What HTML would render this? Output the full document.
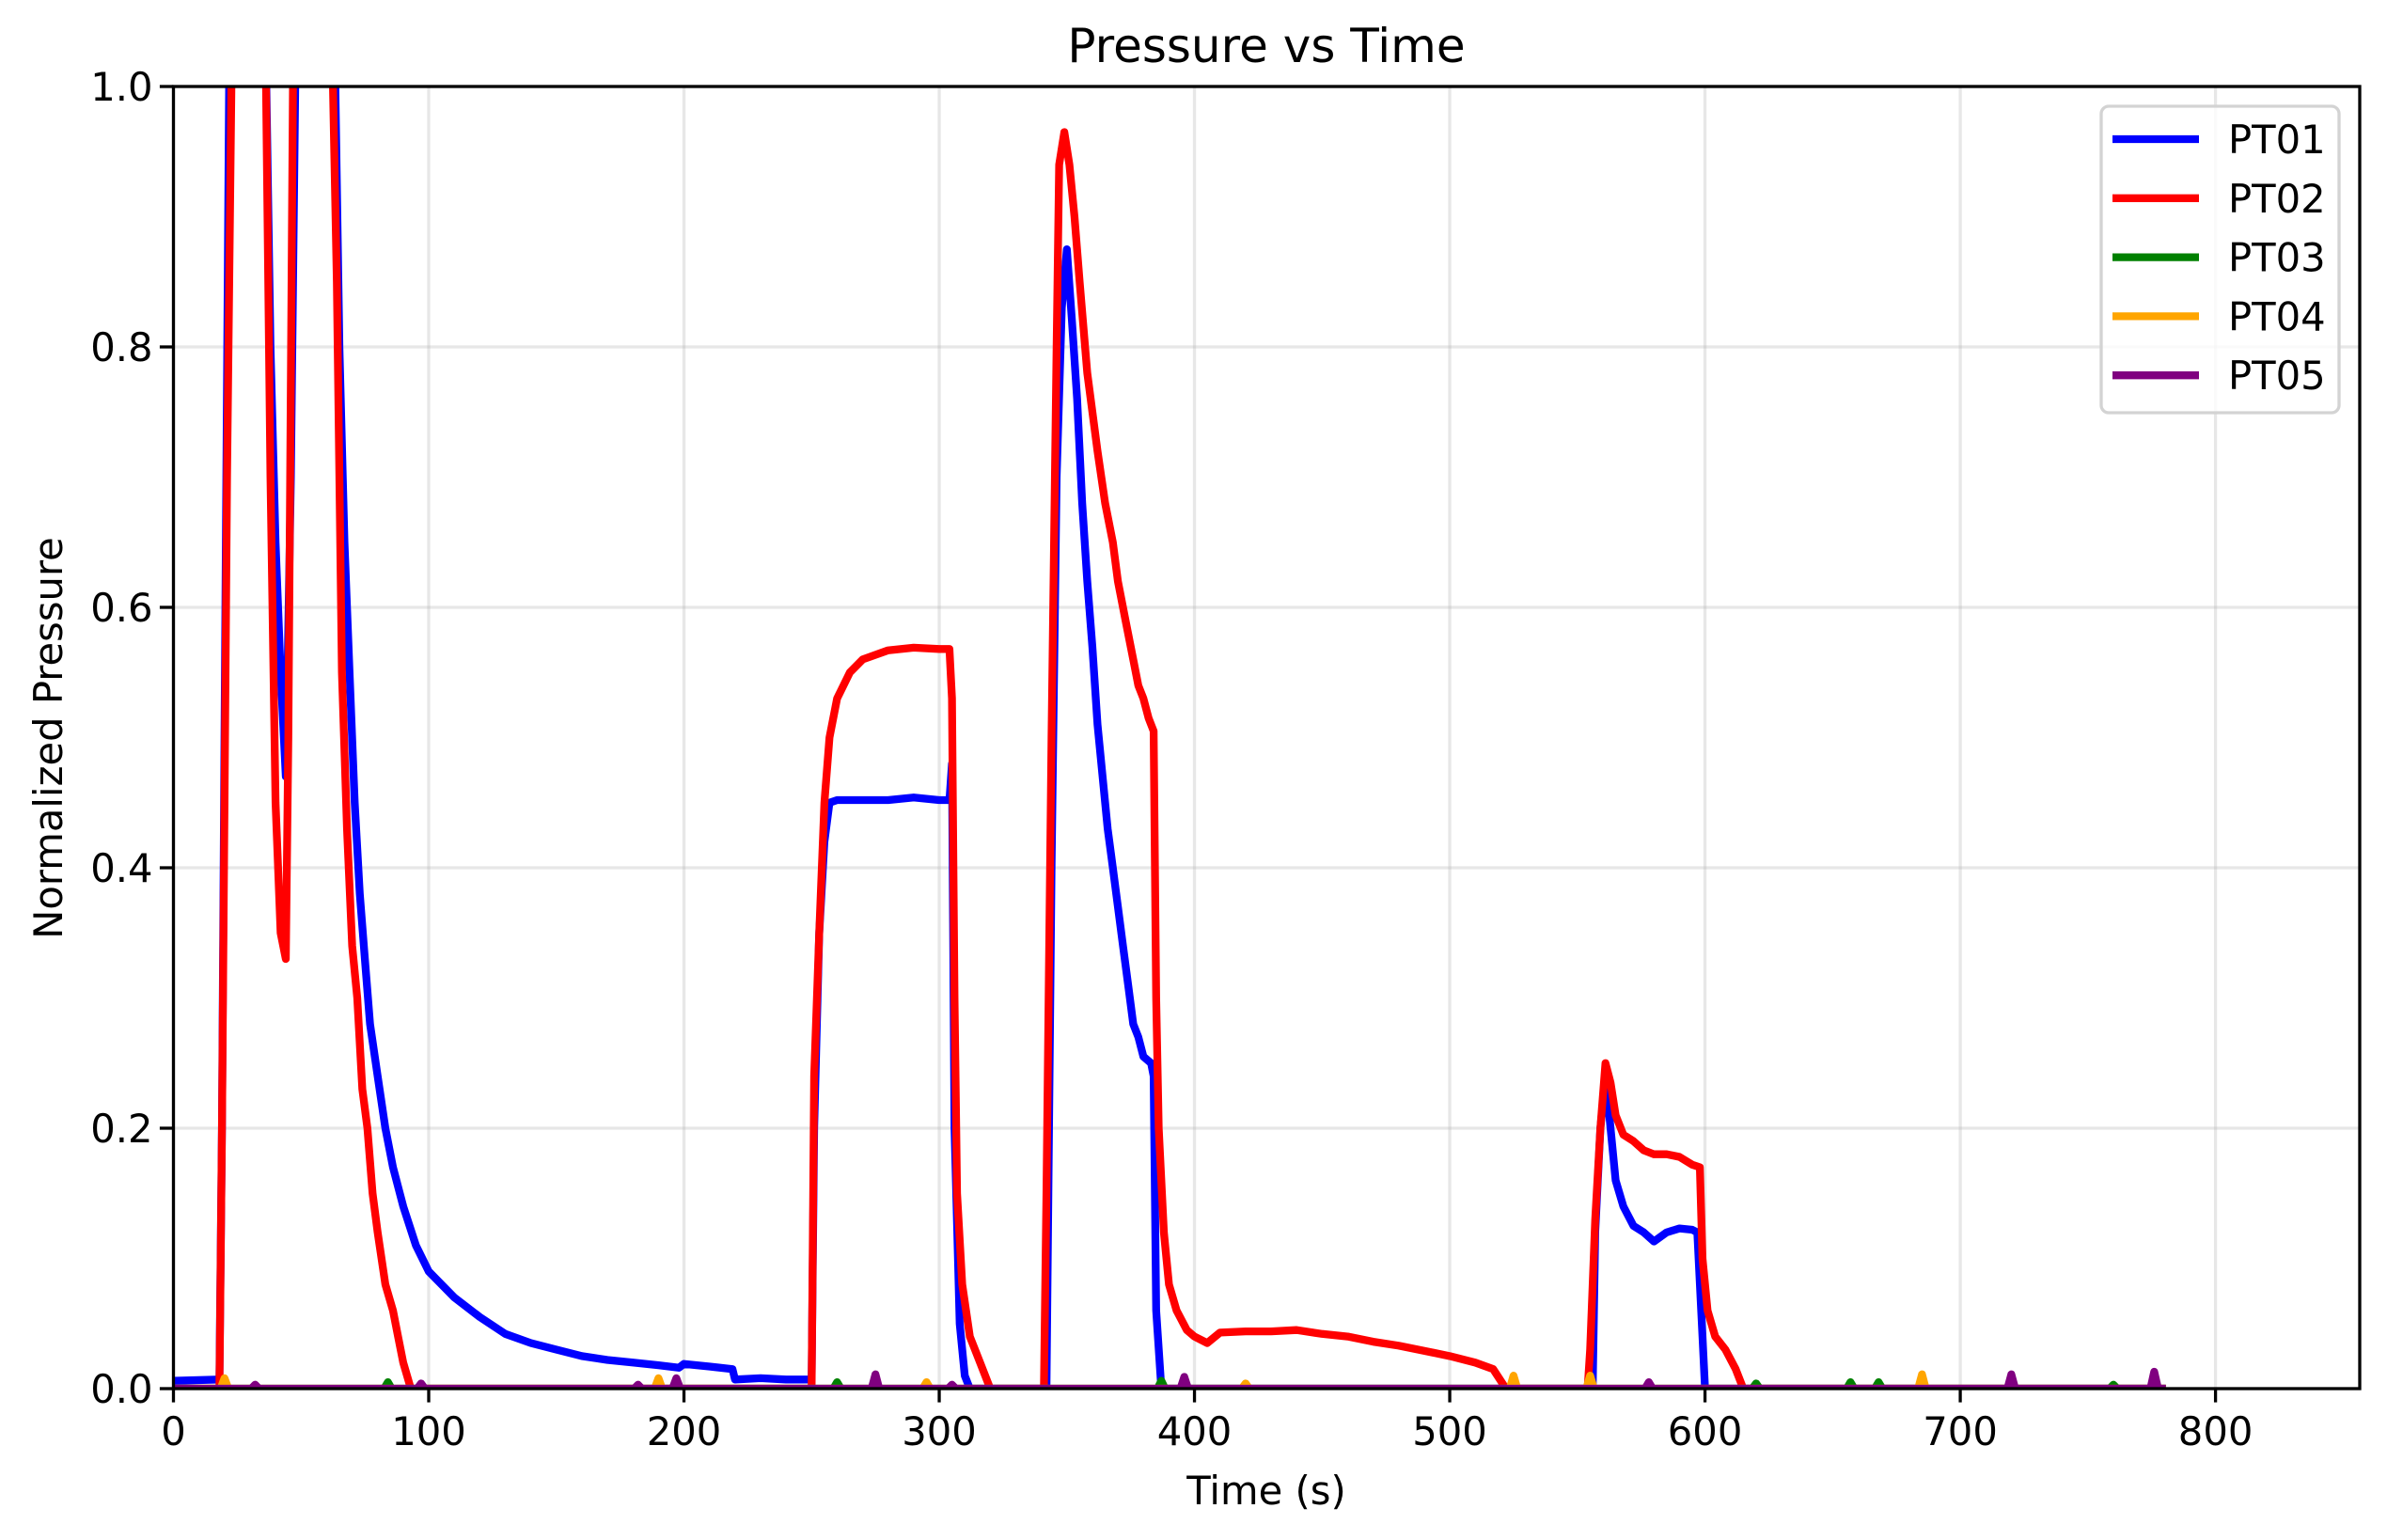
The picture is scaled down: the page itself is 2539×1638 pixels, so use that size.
<!DOCTYPE html>
<html><head><meta charset="utf-8">
<style>
html,body{margin:0;padding:0;background:#fff;}
svg{display:block;font-family:"DejaVu Sans","Liberation Sans",sans-serif;}
</style></head>
<body>
<svg id="chart" width="2539" height="1638" viewBox="0 0 2539 1638" xmlns="http://www.w3.org/2000/svg">
<rect x="0" y="0" width="2539" height="1638" fill="#fff"/>
<defs><clipPath id="plotclip"><rect x="184.5" y="92" width="2325.5" height="1385"/></clipPath></defs>
<g id="grid"></g>
<g id="series" clip-path="url(#plotclip)"></g>
<rect x="184.5" y="92" width="2325.5" height="1385" fill="none" stroke="#000" stroke-width="3.3"/>
<g id="ticks"></g>
<text x="1347" y="66" font-size="50" text-anchor="middle">Pressure vs Time</text>
<text x="1347" y="1600" font-size="41.7" text-anchor="middle">Time (s)</text>
<text x="0" y="0" font-size="41.7" text-anchor="middle" transform="translate(66,785) rotate(-90)">Normalized Pressure</text>
<g id="legend">
<rect x="2235" y="113" width="253" height="326" rx="8" fill="#fff" fill-opacity="0.8" stroke="#d3d3d3" stroke-width="3.3"/>
</g>
</svg>
<script>
const xTicks=[0,100,200,300,400,500,600,700,800];
const yTicks=[0,0.2,0.4,0.6,0.8,1.0];
const yTickLabels=["0.0","0.2","0.4","0.6","0.8","1.0"];
const seriesNames=["PT01","PT02","PT03","PT04","PT05"];
const seriesColors=["#0000ff","#ff0000","#008000","#ffa500","#800080"];
const pt01T=[0,18,19,20,22,36,38,40,42,44,46,48,63,65,67,69,71,73,75,77,80,83,86,90,95,100,110,120,130,140,150,160,170,180,190,198,200,210,219,220,230,240,250,251,253,255,257,260,270,280,290,300,304,305,306,308,310,312,342,344,346,348,350,352,354,356,358,360,362,364,366,368,370,372,374,376,378,380,383,384,385,387,556,557,559,561,563,565,568,572,576,580,585,590,595,597,599,600,779];
const pt01V=[0.006,0.007,0.2,0.5,1.05,1.05,0.8,0.65,0.55,0.47,0.7,1.05,1.05,0.8,0.65,0.55,0.45,0.38,0.33,0.28,0.24,0.2,0.17,0.14,0.11,0.09,0.07,0.055,0.042,0.035,0.03,0.025,0.022,0.02,0.018,0.016,0.019,0.017,0.015,0.007,0.008,0.007,0.007,0.2,0.35,0.42,0.45,0.452,0.452,0.452,0.454,0.452,0.452,0.48,0.2,0.05,0.01,0,0,0.4,0.7,0.83,0.875,0.82,0.76,0.68,0.62,0.57,0.51,0.47,0.43,0.4,0.37,0.34,0.31,0.28,0.27,0.255,0.25,0.24,0.06,0,0,0.12,0.2,0.24,0.2,0.16,0.14,0.125,0.12,0.113,0.12,0.123,0.122,0.12,0.04,0,0];
const pt02T=[0,18,19,21,23,36,38,40,42,44,45,47,62,64,66,68,70,72,74,76,78,80,83,86,88,90,93,250,251,253,255,257,260,265,270,280,290,300,304,305,306,307,309,312,316,320,341,342,344,346,347,349,351,353,355,358,362,365,368,370,373,376,378,380,382,384,385,386,388,390,393,397,400,405,410,420,430,440,450,460,470,480,490,500,510,517,522,554,555,557,559,561,563,565,568,572,576,580,585,590,595,598,599,601,604,608,612,615,779];
const pt02V=[0,0,0.2,0.7,1.05,1.05,0.7,0.45,0.35,0.33,0.5,1.05,1.05,0.85,0.55,0.43,0.34,0.3,0.23,0.2,0.15,0.12,0.08,0.06,0.04,0.02,0,0,0.24,0.35,0.45,0.5,0.53,0.55,0.56,0.567,0.569,0.568,0.568,0.53,0.3,0.15,0.08,0.04,0.02,0,0,0.15,0.5,0.8,0.94,0.965,0.94,0.9,0.85,0.78,0.72,0.68,0.65,0.62,0.59,0.56,0.54,0.53,0.515,0.505,0.3,0.2,0.12,0.08,0.06,0.045,0.04,0.035,0.043,0.044,0.044,0.045,0.042,0.04,0.036,0.033,0.029,0.025,0.02,0.015,0,0,0.03,0.13,0.2,0.25,0.235,0.21,0.195,0.19,0.183,0.18,0.18,0.178,0.172,0.17,0.1,0.06,0.04,0.03,0.015,0,0];
const pt03SpikeT=[84,260,387,620,657,668,760];
const pt03SpikeV=[0.005,0.005,0.006,0.004,0.005,0.005,0.003];
const pt04SpikeT=[20,190,295,420,525,555,685];
const pt04SpikeV=[0.008,0.008,0.005,0.004,0.01,0.01,0.011];
const pt05SpikeT=[32,97,182,197,275,305,396,578,720,776];
const pt05SpikeV=[0.003,0.004,0.003,0.008,0.011,0.003,0.009,0.005,0.011,0.013];

const X0=184.5,X1=2510,Y0=1477,Y1=92,XMAX=856.5;
const sx=t=>X0+t/XMAX*(X1-X0);
const sy=v=>Y0-v*(Y0-Y1);
const NS="http://www.w3.org/2000/svg";
function mk(tag,attrs,parent){const e=document.createElementNS(NS,tag);for(const k in attrs)e.setAttribute(k,attrs[k]);parent.appendChild(e);return e;}
const grid=document.getElementById('grid'),ticks=document.getElementById('ticks'),series=document.getElementById('series'),legend=document.getElementById('legend');
xTicks.forEach(t=>{
  const g=mk('line',{x1:sx(t),x2:sx(t),y1:Y1,y2:Y0,stroke:'#b0b0b0','stroke-opacity':0.3,'stroke-width':3.3},grid);
  
  
  const tk=mk('line',{x1:sx(t),x2:sx(t),y1:Y0,y2:Y0+14.6,stroke:'#000','stroke-width':3.3},ticks);
  
  
  const tl=mk('text',{x:sx(t),y:Y0+60,'font-size':41.7,'text-anchor':'middle'},ticks);
  tl.textContent=String(t);
  
  
});
yTicks.forEach((v,i)=>{
  const g=mk('line',{x1:X0,x2:X1,y1:sy(v),y2:sy(v),stroke:'#b0b0b0','stroke-opacity':0.3,'stroke-width':3.3},grid);
  
  
  const tk=mk('line',{x1:X0-14.6,x2:X0,y1:sy(v),y2:sy(v),stroke:'#000','stroke-width':3.3},ticks);
  
  
  const tl=mk('text',{x:X0-22,y:sy(v)+15,'font-size':41.7,'text-anchor':'end'},ticks);
  tl.textContent=yTickLabels[i];
  
  
});
function spikeSeries(ts,vs){const T=[0],V=[0];ts.forEach((t,i)=>{T.push(t-1.5,t,t+1.5);V.push(0,vs[i],0);});T.push(779);V.push(0);return [T,V];}
const allT=[pt01T,pt02T],allV=[pt01V,pt02V];
[[pt03SpikeT,pt03SpikeV],[pt04SpikeT,pt04SpikeV],[pt05SpikeT,pt05SpikeV]].forEach(p=>{const r=spikeSeries(p[0],p[1]);allT.push(r[0]);allV.push(r[1]);});
allT.forEach((T,si)=>{
  const d=T.map((t,i)=>(i?'L':'M')+sx(t).toFixed(1)+','+sy(allV[si][i]).toFixed(1)).join('');
  const p=mk('path',{d:d,fill:'none',stroke:seriesColors[si],'stroke-width':8.3,'stroke-linejoin':'round','stroke-linecap':'square'},series);
  
  
});
seriesNames.forEach((n,i)=>{
  const y=148+i*62.8;
  const l=mk('line',{x1:2247,x2:2339,y1:y,y2:y,stroke:seriesColors[i],'stroke-width':8.3},legend);
  
  
  const t=mk('text',{x:2370,y:y+15,'font-size':41.7},legend);
  t.textContent=n;
  
  
});
</script>
</body></html>
